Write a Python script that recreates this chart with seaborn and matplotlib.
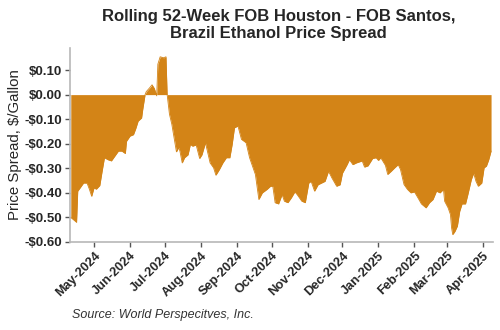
import matplotlib
matplotlib.use("Agg")
import matplotlib.pyplot as plt
import matplotlib.dates as mdates
import matplotlib.ticker as mticker
import seaborn as sns
import pandas as pd

dates = [
    "2024-04-11", "2024-04-15", "2024-04-16", "2024-04-17", "2024-04-19", "2024-04-22",
    "2024-04-25", "2024-04-27", "2024-04-29", "2024-05-01", "2024-05-03", "2024-05-06",
    "2024-05-08", "2024-05-10", "2024-05-13", "2024-05-16", "2024-05-19", "2024-05-22",
    "2024-05-25", "2024-05-28", "2024-05-29", "2024-06-01", "2024-06-04", "2024-06-06",
    "2024-06-08", "2024-06-11", "2024-06-12", "2024-06-14", "2024-06-15", "2024-06-18",
    "2024-06-20", "2024-06-22", "2024-06-24", "2024-06-25", "2024-06-27", "2024-06-30",
    "2024-07-02", "2024-07-03", "2024-07-05", "2024-07-07", "2024-07-10", "2024-07-11",
    "2024-07-13", "2024-07-14", "2024-07-16", "2024-07-18", "2024-07-21", "2024-07-23",
    "2024-07-25", "2024-07-28", "2024-07-31", "2024-08-02", "2024-08-05", "2024-08-09",
    "2024-08-12", "2024-08-14", "2024-08-17", "2024-08-20", "2024-08-23", "2024-08-26",
    "2024-08-28", "2024-08-30", "2024-09-02", "2024-09-05", "2024-09-09", "2024-09-12",
    "2024-09-17", "2024-09-20", "2024-09-23", "2024-09-27", "2024-09-30", "2024-10-02",
    "2024-10-04", "2024-10-07", "2024-10-10", "2024-10-12", "2024-10-15", "2024-10-18",
    "2024-10-21", "2024-10-23", "2024-10-27", "2024-10-30", "2024-11-02", "2024-11-04",
    "2024-11-07", "2024-11-10", "2024-11-13", "2024-11-16", "2024-11-19", "2024-11-22",
    "2024-11-26", "2024-11-29", "2024-12-01", "2024-12-05", "2024-12-07", "2024-12-10",
    "2024-12-13", "2024-12-18", "2024-12-20", "2024-12-23", "2024-12-27", "2024-12-30",
    "2025-01-01", "2025-01-03", "2025-01-07", "2025-01-09", "2025-01-12", "2025-01-15",
    "2025-01-18", "2025-01-20", "2025-01-23", "2025-01-26", "2025-01-29", "2025-02-01",
    "2025-02-04", "2025-02-07", "2025-02-11", "2025-02-14", "2025-02-17", "2025-02-20",
    "2025-02-23", "2025-02-26", "2025-02-27", "2025-03-02", "2025-03-04", "2025-03-05",
    "2025-03-06", "2025-03-08", "2025-03-10", "2025-03-12", "2025-03-14", "2025-03-17",
    "2025-03-19", "2025-03-22", "2025-03-24", "2025-03-26", "2025-03-28", "2025-03-31",
    "2025-04-02", "2025-04-04", "2025-04-06", "2025-04-08",
]
spread = [
    -0.500, -0.516, -0.520, -0.393, -0.380, -0.360,
    -0.360, -0.385, -0.414, -0.380, -0.385, -0.370,
    -0.312, -0.257, -0.265, -0.270, -0.250, -0.230,
    -0.230, -0.240, -0.190, -0.169, -0.163, -0.138,
    -0.108, -0.095, -0.060, 0.000, 0.012, 0.028,
    0.040, 0.025, -0.005, 0.124, 0.154, 0.150,
    0.154, 0.000, -0.080, -0.120, -0.203, -0.233,
    -0.215, -0.230, -0.278, -0.257, -0.245, -0.203,
    -0.210, -0.205, -0.260, -0.245, -0.196, -0.278,
    -0.298, -0.328, -0.305, -0.278, -0.257, -0.257,
    -0.203, -0.135, -0.128, -0.182, -0.196, -0.257,
    -0.325, -0.427, -0.400, -0.386, -0.373, -0.373,
    -0.440, -0.445, -0.407, -0.434, -0.440, -0.420,
    -0.396, -0.407, -0.434, -0.440, -0.360, -0.353,
    -0.393, -0.367, -0.360, -0.353, -0.312, -0.340,
    -0.373, -0.367, -0.320, -0.285, -0.265, -0.285,
    -0.278, -0.270, -0.295, -0.290, -0.260, -0.257,
    -0.268, -0.257, -0.288, -0.325, -0.312, -0.298,
    -0.285, -0.305, -0.366, -0.386, -0.400, -0.396,
    -0.420, -0.445, -0.461, -0.440, -0.427, -0.393,
    -0.400, -0.386, -0.434, -0.461, -0.488, -0.543,
    -0.570, -0.556, -0.535, -0.475, -0.445, -0.445,
    -0.407, -0.346, -0.320, -0.353, -0.373, -0.360,
    -0.298, -0.291, -0.265, -0.230,
]
title = "Rolling 52-Week FOB Houston - FOB Santos,\nBrazil Ethanol Price Spread"
ylabel = "Price Spread, $/Gallon"
source = "Source: World Perspecitves, Inc."

df = pd.DataFrame({"date": pd.to_datetime(dates), "spread": spread})

sns.set_style("white")
plt.rcParams["font.family"] = ["Liberation Sans", "DejaVu Sans"]

fig = plt.figure(figsize=(5.0, 3.3), dpi=100)
ax = fig.add_axes([0.14, 0.2667, 0.846, 0.588])

color = "#D38417"
sns.lineplot(data=df, x="date", y="spread", ax=ax, color=color, linewidth=0.6)
ax.fill_between(df["date"], df["spread"], 0, color=color, linewidth=0)

ax.set_xlim(pd.Timestamp("2024-04-10 08:00"), pd.Timestamp("2025-04-09 16:00"))
ax.set_ylim(-0.6, 0.19)
ax.set_yticks([0.10, 0.0, -0.10, -0.20, -0.30, -0.40, -0.50, -0.60])

def money(v, pos):
    v = round(v, 2)
    if v < 0:
        return "-${:.2f}".format(-v)
    return "${:.2f}".format(abs(v))

ax.yaxis.set_major_formatter(mticker.FuncFormatter(money))
ax.xaxis.set_major_locator(mdates.MonthLocator(bymonthday=1))
ax.xaxis.set_major_formatter(mdates.DateFormatter("%b-%Y"))

for s in ["top", "right"]:
    ax.spines[s].set_visible(False)
for s in ["left", "bottom"]:
    ax.spines[s].set_color("#b8b8b8")
    ax.spines[s].set_linewidth(1.2)

ax.tick_params(axis="both", direction="out", length=3.5, width=1, color="#555555",
               labelsize=9.5, pad=2, bottom=True, left=True)
ax.tick_params(axis="x", labelsize=9.2)
for lbl in ax.get_yticklabels():
    lbl.set_fontweight("bold")
for lbl in ax.get_xticklabels():
    lbl.set_rotation(45)
    lbl.set_ha("right")
    lbl.set_rotation_mode("anchor")
    lbl.set_fontweight("bold")

ax.set_xlabel("")
ax.set_ylabel(ylabel, fontsize=10.8, labelpad=4)
ax.yaxis.set_label_coords(-0.114, 0.5)

fig.text(0.557, 0.972, title, ha="center", va="top", fontsize=12,
         fontweight="bold", linespacing=1.15)
fig.text(0.143, 0.045, source, ha="left", va="center", fontsize=9,
         fontstyle="italic", color="#333333")

fig.savefig("out.png", dpi=100)
